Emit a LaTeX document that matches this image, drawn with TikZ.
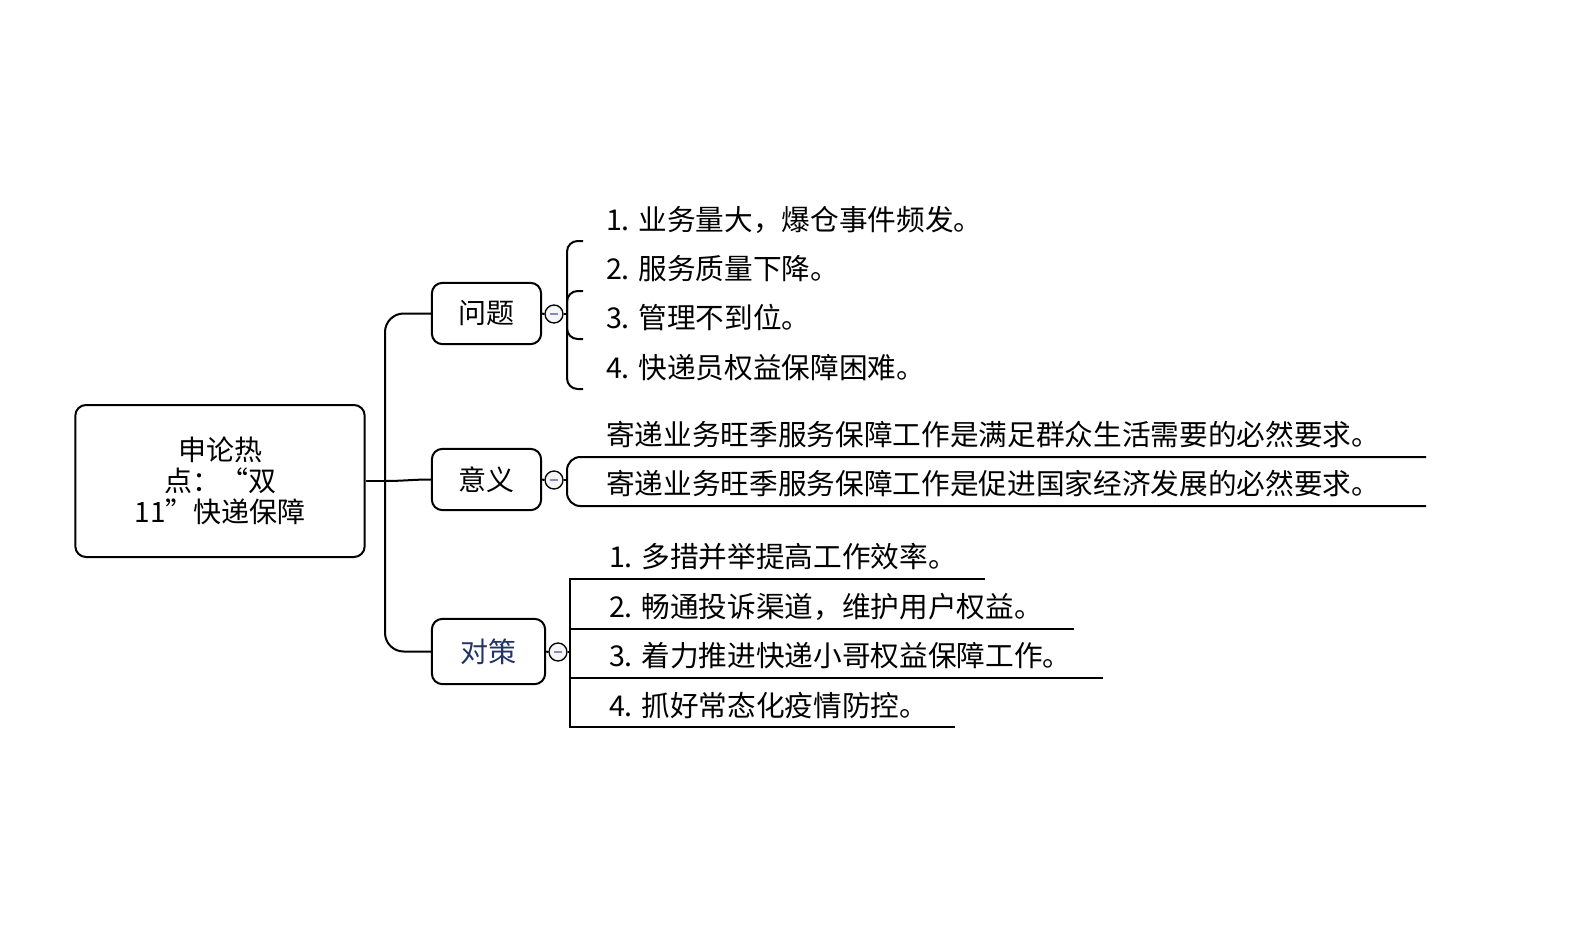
\documentclass[tikz,border=0pt]{standalone}
\usepackage{fontspec}
\setmainfont{Noto Sans CJK SC}
\begin{document}
\begin{tikzpicture}[x=0.75pt,y=-0.75pt,line width=1.5pt,
  box/.style={draw,rounded corners=8pt,font=\fontsize{21}{25}\selectfont,align=center,inner sep=0pt},
  item/.style={anchor=west,inner sep=0pt,font=\fontsize{21.5}{25}\selectfont},
  knob/.style={draw,circle,fill=gray!8,minimum size=13.5pt,inner sep=0pt,line width=1pt}]
\useasboundingbox (0,0) rectangle (1586,943);
\node[box,minimum width=217pt,minimum height=114pt,font=\fontsize{21}{23}\selectfont] (root) at (220,481) {申论热\\点：“双\\11”快递保障};
\node[box,minimum width=82pt,minimum height=46pt] (q) at (486.5,313.5) {问题};
\node[box,minimum width=82pt,minimum height=46pt] (y) at (486.5,479.5) {意义};
\node[box,minimum width=85pt,minimum height=49pt,text={rgb,255:red,34;green,52;blue,102}] (d) at (488.5,651.5) {对策};
\coordinate (j) at (385,481);
\draw (root.east) -- (j);
\draw[rounded corners=14pt] (j) |- (q.west);
\draw[rounded corners=14pt] (j) |- (d.west);
\draw (j) to[out=0,in=180] (y.west);
\node[knob] (kq) at (554,314) {};
\node[knob] (ky) at (554,480) {};
\node[knob] (kd) at (558,652) {};
\foreach \k in {kq,ky,kd} \draw[line width=1.2pt,color={rgb,255:red,130;green,140;blue,190}] ([xshift=-3pt]\k.center) -- ([xshift=3pt]\k.center);
\draw (q.east) -- (kq.west);
\draw (y.east) -- (ky.west);
\draw (d.east) -- (kd.west);
% 问题 bracket
\draw (kq.east) -- (567,314);
\draw[rounded corners=8pt] (583,241) -- (567,241) -- (567,389) -- (583,389);
\draw[rounded corners=8pt] (583,291) -- (567,291) -- (567,339) -- (583,339);
\node[item] (q1) at (605,220) {1. 业务量大，爆仓事件频发。};
\node[item] (q2) at (605,269) {2. 服务质量下降。};
\node[item] (q3) at (605,318) {3. 管理不到位。};
\node[item] (q4) at (605,368) {4. 快递员权益保障困难。};
% 意义
\draw (ky.east) -- (567,480);
\draw[rounded corners=10pt] (1426,457) -- (567,457) -- (567,506) -- (1426,506);
\node[item] (y1) at (605,435) {寄递业务旺季服务保障工作是满足群众生活需要的必然要求。};
\node[item] (y2) at (605,484) {寄递业务旺季服务保障工作是促进国家经济发展的必然要求。};
% 对策
\draw (kd.east) -- (570,652);
\draw (985,579) -- (570,579) -- (570,727) -- (955,727);
\draw (570,629) -- (1074,629);
\draw (570,678) -- (1103,678);
\node[item] (d1) at (608,557) {1. 多措并举提高工作效率。};
\node[item] (d2) at (608,607) {2. 畅通投诉渠道，维护用户权益。};
\node[item] (d3) at (608,656) {3. 着力推进快递小哥权益保障工作。};
\node[item] (d4) at (608,706) {4. 抓好常态化疫情防控。};
\end{tikzpicture}
\end{document}
